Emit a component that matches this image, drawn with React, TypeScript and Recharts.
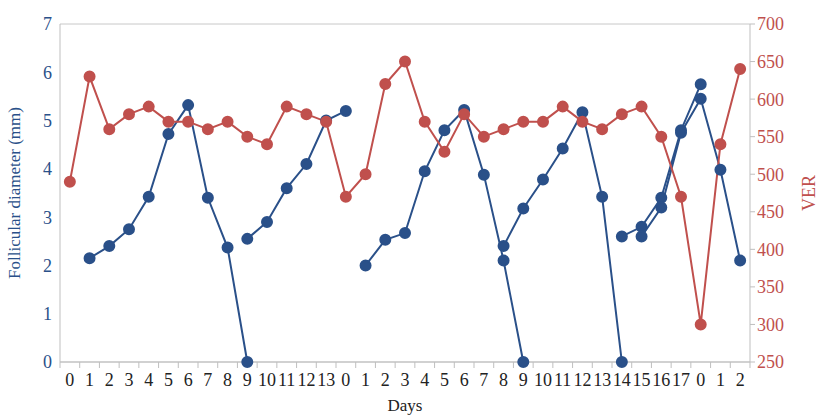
import { CartesianGrid, Line, LineChart, XAxis, YAxis } from "recharts";

const dayLabels = [
  "0", "1", "2", "3", "4", "5", "6", "7", "8", "9", "10", "11", "12", "13",
  "0", "1", "2", "3", "4", "5", "6", "7", "8", "9", "10", "11", "12", "13", "14", "15", "16", "17",
  "0", "1", "2",
];

const ver = [
  490, 630, 560, 580, 590, 570, 570, 560, 570, 550, 540, 590, 580, 570,
  470, 500, 620, 650, 570, 530, 580, 550, 560, 570, 570, 590, 570, 560, 580, 590, 550, 470,
  300, 540, 640,
];

// follicle waves: [start index, values]
const waves: [number, number[]][] = [
  [1, [2.15, 2.4, 2.75, 3.42, 4.72, 5.32, 3.4, 2.37, 0]],
  [9, [2.55, 2.9, 3.6, 4.1, 5.0, 5.2]],
  [15, [2.0, 2.53, 2.67, 3.95, 4.8, 5.22, 3.88, 2.1, 0]],
  [22, [2.4, 3.18, 3.78, 4.42, 5.17, 3.42, 0]],
  [28, [2.6, 2.8, 3.4, 4.8, 5.75]],
  [29, [2.6, 3.2, 4.75, 5.45, 3.98, 2.1]],
];

const data = dayLabels.map((label, i) => {
  const row: Record<string, number | string | null> = { i, label, ver: ver[i] };
  waves.forEach(([start, vals], w) => {
    const v = vals[i - start];
    row["w" + w] = v === undefined ? null : v;
  });
  return row;
});

const BLUE = "#2a5089";
const RED = "#c0504d";
const font = "Liberation Serif, Times New Roman, serif";
const step = 690 / 35;

const DayTick = (props: any) => {
  const { x, y, payload } = props;
  return (
    <g>
      <line x1={x - step / 2} x2={x - step / 2} y1={y - 8} y2={y - 2} stroke="#bfbfbf" />
      {payload.index === 34 && (
        <line x1={x + step / 2} x2={x + step / 2} y1={y - 8} y2={y - 2} stroke="#bfbfbf" />
      )}
      <text x={x} y={y + 16} textAnchor="middle" fill="#222" fontSize={18} fontFamily={font}>
        {dayLabels[payload.value]}
      </text>
    </g>
  );
};

export default function App() {
  return (
    <div style={{ position: "absolute", left: 0, top: 0, background: "#fff" }}>
      <LineChart
        width={819}
        height={417}
        data={data}
        margin={{ top: 24, right: 0, bottom: 20, left: 0 }}
      >
        <CartesianGrid vertical={false} stroke="#c8c8c8" />
        <XAxis
          dataKey="i"
          type="category"
          stroke="#bfbfbf"
          tickLine={false}
          interval={0}
          height={35}
          padding={{ left: step / 2, right: step / 2 }}
          tick={<DayTick />}
          label={{ value: "Days", position: "insideBottom", offset: -14, fill: "#222", fontSize: 17, fontFamily: font }}
        />
        <YAxis
          yAxisId="mm"
          domain={[0, 7]}
          ticks={[0, 1, 2, 3, 4, 5, 6, 7]}
          width={60}
          stroke="#bfbfbf"
          tickLine={false}
          tick={{ fill: BLUE, fontSize: 18, fontFamily: font }}
          label={{ value: "Follicular diameter (mm)", angle: -90, position: "insideLeft", offset: 14, fill: BLUE, fontSize: 17, fontFamily: font, style: { textAnchor: "middle" } }}
        />
        <YAxis
          yAxisId="ver"
          orientation="right"
          domain={[250, 700]}
          ticks={[250, 300, 350, 400, 450, 500, 550, 600, 650, 700]}
          width={69}
          stroke="#bfbfbf"
          tickLine={{ stroke: "#bfbfbf" }}
          tickSize={5}
          tick={{ fill: RED, fontSize: 18, fontFamily: font }}
          label={{ value: "VER", angle: -90, position: "insideRight", offset: 10, fill: RED, fontSize: 18, fontFamily: font, style: { textAnchor: "middle" } }}
        />
        {waves.map((_, w) => (
          <Line
            key={w}
            yAxisId="mm"
            dataKey={"w" + w}
            stroke={BLUE}
            strokeWidth={2}
            dot={{ r: 5, fill: BLUE, stroke: BLUE }}
            isAnimationActive={false}
          />
        ))}
        <Line
          yAxisId="ver"
          dataKey="ver"
          stroke={RED}
          strokeWidth={2}
          dot={{ r: 5, fill: RED, stroke: RED }}
          isAnimationActive={false}
        />
      </LineChart>
    </div>
  );
}
